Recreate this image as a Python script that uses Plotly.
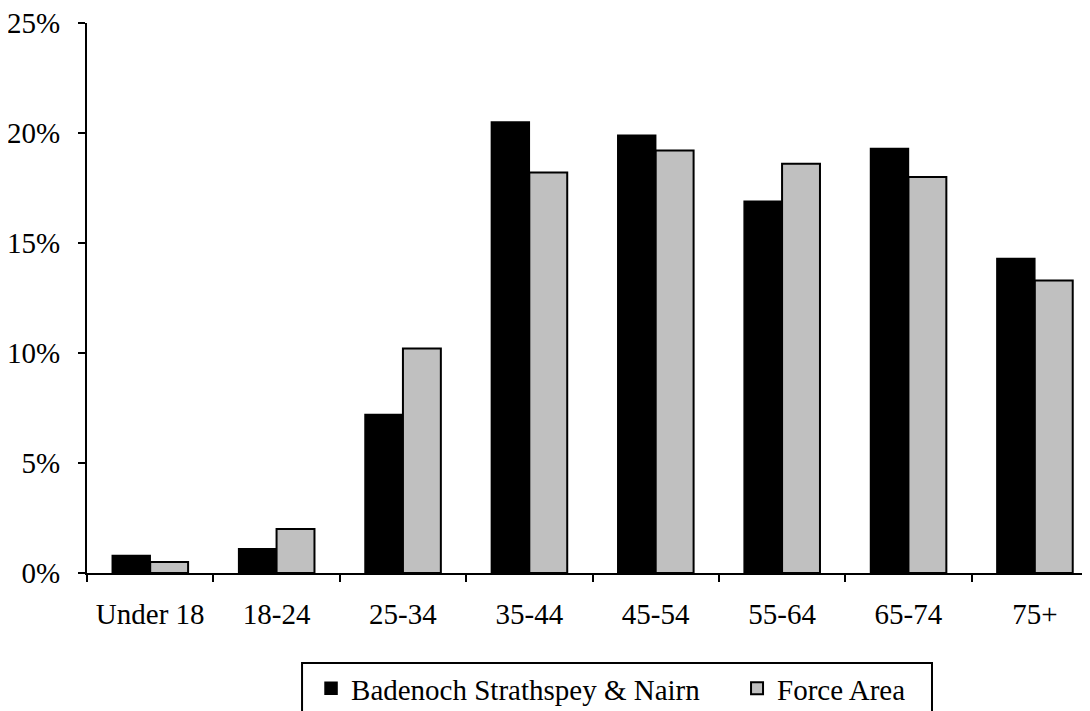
import plotly.graph_objects as go

categories = ["Under 18", "18-24", "25-34", "35-44", "45-54", "55-64", "65-74", "75+"]
badenoch = [0.8, 1.1, 7.2, 20.5, 19.9, 16.9, 19.3, 14.3]
force_area = [0.5, 2.0, 10.2, 18.2, 19.2, 18.6, 18.0, 13.3]
y_ticks = [0, 5, 10, 15, 20, 25]
y_tick_labels = ["0%", "5%", "10%", "15%", "20%", "25%"]

font = dict(family="Liberation Serif", size=29, color="black")

fig = go.Figure()
fig.add_trace(go.Bar(x=categories, y=badenoch, name="Badenoch Strathspey & Nairn",
                     marker=dict(color="black", line=dict(color="black", width=1.5))))
fig.add_trace(go.Bar(x=categories, y=force_area, name="Force Area",
                     marker=dict(color="#c0c0c0", line=dict(color="black", width=2))))

# legend frame drawn as a paper-referenced rectangle
fig.add_shape(type="rect", xref="paper", yref="paper",
              x0=0.2127, x1=0.8358, y0=-0.1636, y1=-0.30,
              line=dict(color="black", width=2), fillcolor="rgba(0,0,0,0)", layer="above")

fig.update_layout(
    width=1090, height=711,
    margin=dict(l=79, r=0, t=15, b=146, autoexpand=False),
    paper_bgcolor="white", plot_bgcolor="white",
    font=font,
    barmode="group", bargap=0.4, bargroupgap=0,
    showlegend=True,
    legend=dict(orientation="h", x=0.2216, xanchor="left", y=-0.1636, yanchor="top",
                borderwidth=0, font=font,
                itemwidth=30, bgcolor="rgba(0,0,0,0)", tracegroupgap=0,
                entrywidth=381, entrywidthmode="pixels"),
)
fig.update_xaxes(showline=True, linecolor="black", linewidth=2, ticks="outside",
                 tickson="boundaries", ticklen=7, tickwidth=2, tickcolor="black",
                 showgrid=False, ticklabelstandoff=14, tickfont=font)
fig.update_yaxes(range=[0, 25], tickvals=y_ticks, ticktext=y_tick_labels,
                 showline=True, linecolor="black", linewidth=2, ticks="outside",
                 ticklen=7, tickwidth=2, tickcolor="black", showgrid=False,
                 zeroline=False, ticklabelstandoff=12, ticklabeloverflow="allow",
                 tickfont=font)

fig.write_html("out.html")
